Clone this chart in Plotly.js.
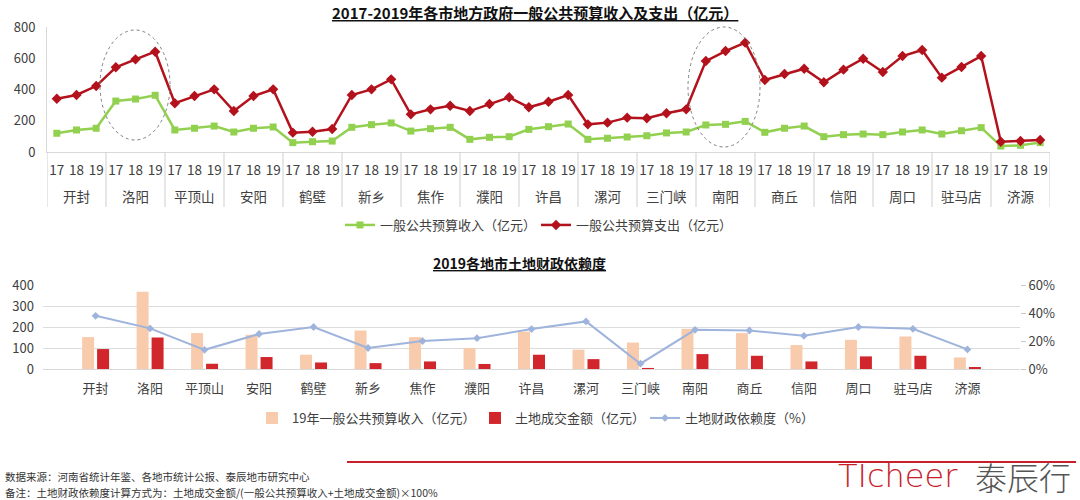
<!DOCTYPE html>
<html>
<head>
<meta charset="utf-8">
<script src="https://cdn.plot.ly/plotly-3.0.1.min.js"></script>
<style>html,body{margin:0;padding:0;background:#fff;}#chart{width:1080px;height:500px;}</style>
</head>
<body>
<div id="chart"></div>
<script>
// ---------- data ----------
const cities = ['开封','洛阳','平顶山','安阳','鹤壁','新乡','焦作','濮阳','许昌','漯河','三门峡','南阳','商丘','信阳','周口','驻马店','济源'];
const years = ['17','18','19'];
// 一般公共预算收入（亿元）
const rev17 = [120,326,141,128,60,158,134,81,145,81,104,173,126,98,111,115,38];
const rev18 = [141,339,152,152,66,175,149,94,162,88,122,177,152,111,128,136,43];
const rev19 = [152,363,166,160,70,186,158,98,179,96,128,196,166,115,141,156,60];
// 一般公共预算支出（亿元）
const exp17 = [341,542,312,262,124,365,241,262,286,177,216,582,461,446,512,476,66];
const exp18 = [365,593,358,358,130,401,273,307,322,188,248,646,499,527,614,544,70];
const exp19 = [422,642,401,401,147,465,296,350,365,220,273,700,533,597,653,614,77];
// 2019 bottom chart
const budget2019 = [152,368,171,163,68,183,152,100,178,92,126,191,171,114,139,155,55];
const landSales = [95,150,25,57,31,28,36,24,68,47,5,71,63,36,60,63,9.5];
const landDependence = [38,29,13.7,25,30,15,20,22,28.5,34,3.8,28,27.5,23.7,30,28.7,14];

// ---------- build the (city, year) sequence ----------
const seqIdx = [], seqYear = [], revAll = [], expAll = [];
const revY = [rev17, rev18, rev19], expY = [exp17, exp18, exp19];
cities.forEach((c, i) => {
  years.forEach((y, j) => {
    seqIdx.push(i * years.length + j); seqYear.push(y);
    revAll.push(revY[j][i]); expAll.push(expY[j][i]);
  });
});
const nYear = years.length;

const FONT = '"Noto Sans CJK SC", "Noto Sans", sans-serif';
const TXT = '#404040';
const W = 1080, H = 500;
const px = v => v / W, py = v => 1 - v / H;

const traces = [
  {type:'scatter', mode:'lines+markers', name:'一般公共预算收入（亿元）',
   x:seqIdx, y:revAll, xaxis:'x', yaxis:'y', legend:'legend', showlegend:true,
   line:{color:'#92d050', width:2.5}, marker:{symbol:'square', size:7, color:'#92d050'}},
  {type:'scatter', mode:'lines+markers', name:'一般公共预算支出（亿元）',
   x:seqIdx, y:expAll, xaxis:'x', yaxis:'y', legend:'legend2', showlegend:true,
   line:{color:'#b3121c', width:2.5}, marker:{symbol:'diamond', size:8, color:'#b3121c'}},
  {type:'bar', name:'19年一般公共预算收入（亿元）', x:cities, y:budget2019,
   xaxis:'x2', yaxis:'y2', legend:'legend3', marker:{color:'#f8cbad'}},
  {type:'bar', name:'土地成交金额（亿元）', x:cities, y:landSales,
   xaxis:'x2', yaxis:'y2', legend:'legend4', marker:{color:'#d0262c'}},
  {type:'scatter', mode:'lines+markers', name:'土地财政依赖度（%）', x:cities, y:landDependence,
   xaxis:'x2', yaxis:'y3', legend:'legend5',
   line:{color:'#9fb4dc', width:2}, marker:{symbol:'diamond', size:6, color:'#9fb4dc'}}
];

const legendBase = (x, y) => ({x:px(x), y:py(y), xanchor:'left', yanchor:'middle', orientation:'h',
  bgcolor:'rgba(0,0,0,0)', font:{family:FONT, size:13, color:TXT}});

// group dividers and city labels for the top axis (positions from the category index)
const dividerShapes = [];
for (let i = 0; i <= cities.length; i++) {
  dividerShapes.push({type:'line', xref:'x', yref:'paper', x0:i * nYear - 0.5, x1:i * nYear - 0.5,
    y0:py(152), y1:py(207), line:{color:'#cfcfcf', width:1}});
}
const cityLabels = cities.map((c, i) => ({xref:'x', yref:'paper', x:i * nYear + (nYear - 1) / 2, y:py(196),
  xanchor:'center', yanchor:'middle', showarrow:false, text:c, font:{family:FONT, size:13.5, color:TXT}}));

const layout = {
  width:W, height:H, margin:{l:0, r:0, t:0, b:0},
  showlegend:true,
  paper_bgcolor:'#fff', plot_bgcolor:'rgba(0,0,0,0)',
  font:{family:FONT, color:TXT},
  barmode:'group', bargap:0.45, bargroupgap:0.2,
  xaxis:{domain:[px(47), px(1050)], anchor:'y', type:'linear', range:[-0.5, seqIdx.length - 0.5],
    tickmode:'array', tickvals:seqIdx, ticktext:seqYear, tickangle:0, ticklabelstandoff:6,
    showline:true, linecolor:'#d9d9d9', ticks:'', tickfont:{size:13.5, color:TXT, family:FONT},
    showgrid:false, zeroline:false},
  yaxis:{domain:[py(152), py(27)], anchor:'x', range:[0, 800], dtick:200, ticklabelstandoff:8,
    showgrid:false, zeroline:false, showline:true, linecolor:'#d9d9d9', ticks:'',
    tickfont:{size:13, color:TXT, family:FONT}},
  xaxis2:{domain:[px(43), px(1020)], anchor:'y2', type:'category', tickangle:0, ticklabelstandoff:7,
    showline:true, linecolor:'#d9d9d9', ticks:'', showgrid:false,
    tickfont:{size:13, color:TXT, family:FONT}},
  yaxis2:{domain:[py(369), py(285)], anchor:'x2', range:[0, 400], dtick:100, ticklabelstandoff:8,
    showgrid:true, gridcolor:'#dcdcdc', zeroline:false, showline:false, ticks:'',
    tickfont:{size:13, color:TXT, family:FONT}},
  yaxis3:{overlaying:'y2', side:'right', anchor:'x2', range:[0, 60], dtick:20, ticksuffix:'%',
    showgrid:false, zeroline:false, showline:false, ticks:'outside', ticklen:5, tickcolor:'#c8c8c8',
    tickfont:{size:13, color:TXT, family:FONT}},
  legend:legendBase(340, 225),
  legend2:legendBase(536, 225),
  legend3:legendBase(252, 418),
  legend4:legendBase(475, 418),
  legend5:legendBase(645, 418),
  shapes:dividerShapes.concat([
    {type:'circle', xref:'paper', yref:'paper', x0:px(100), x1:px(170), y0:py(140), y1:py(30),
     line:{color:'#7f7f7f', width:1, dash:'dot'}},
    {type:'circle', xref:'paper', yref:'paper', x0:px(688), x1:px(760), y0:py(147), y1:py(27),
     line:{color:'#7f7f7f', width:1, dash:'dot'}},
    {type:'line', xref:'paper', yref:'paper', x0:px(347), x1:px(1076), y0:py(462), y1:py(462),
     line:{color:'#c8202a', width:2}}
  ]),
  annotations:cityLabels.concat([
    {xref:'paper', yref:'paper', x:px(535), y:py(12), xanchor:'center', yanchor:'middle', showarrow:false,
     text:'<b><u>2017-2019年各市地方政府一般公共预算收入及支出（亿元）</u></b>',
     font:{family:FONT, size:15, color:'#111'}},
    {xref:'paper', yref:'paper', x:px(519), y:py(263), xanchor:'center', yanchor:'middle', showarrow:false,
     text:'<b><u>2019各地市土地财政依赖度</u></b>',
     font:{family:FONT, size:14, color:'#111'}},
    {xref:'paper', yref:'paper', x:px(3), y:py(476), xanchor:'left', yanchor:'middle', showarrow:false,
     text:'数据来源：河南省统计年鉴、各地市统计公报、泰辰地市研究中心',
     font:{family:FONT, size:10.5, color:'#333'}},
    {xref:'paper', yref:'paper', x:px(3), y:py(492), xanchor:'left', yanchor:'middle', showarrow:false,
     text:'备注：土地财政依赖度计算方式为：土地成交金额/(一般公共预算收入+土地成交金额)×100%',
     font:{family:FONT, size:10.5, color:'#333'}},
    {xref:'paper', yref:'paper', x:px(960), y:py(476), xanchor:'right', yanchor:'middle', showarrow:false,
     text:'TIcheer', font:{family:'"DejaVu Sans", sans-serif', size:32, weight:200, color:'#c8202a'}},
    {xref:'paper', yref:'paper', x:px(1073), y:py(476), xanchor:'right', yanchor:'middle', showarrow:false,
     text:'泰辰行', font:{family:FONT, size:32, weight:300, color:'#555'}}
  ])
};

Plotly.newPlot('chart', traces, layout, {displayModeBar:false, staticPlot:true});
</script>
</body>
</html>
